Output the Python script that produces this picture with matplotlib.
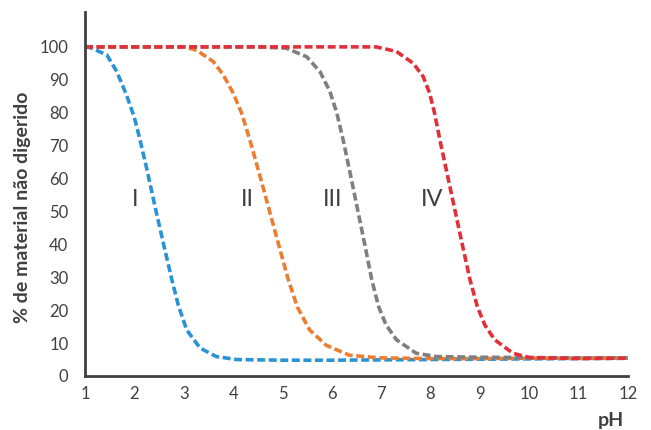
import numpy as np
import matplotlib
matplotlib.use('Agg')
import matplotlib.pyplot as plt

plt.rcParams['font.family'] = ['Lato', 'DejaVu Sans']

# curve I (blue)
ph_1 = [1.0, 1.1, 1.44, 1.64, 1.84, 2.0, 2.11, 2.25, 2.44, 2.6, 2.76, 2.89, 3.06, 3.33,
        3.66, 4.07, 5.0, 6.0, 7.0, 8.0, 9.0, 10.0, 11.0, 12.0]
val_1 = [100, 99.8, 97.6, 92.6, 85.4, 78.5, 72.0, 63.0, 50.0, 39.5, 29.2, 21.5, 14.0, 8.5,
         5.9, 5.0, 4.8, 4.8, 4.9, 5.0, 5.1, 5.2, 5.3, 5.4]

# curve II (orange)
ph_2 = [1.0, 2.0, 3.0, 3.26, 3.6, 3.8, 4.0, 4.17, 4.34, 4.54, 4.74, 4.93, 5.12, 5.3,
        5.55, 5.89, 6.36, 6.97, 8.0, 9.0, 10.0, 11.0, 12.0]
val_2 = [100, 100, 100, 99.0, 95.5, 91.5, 86.0, 80.0, 71.7, 61.0, 50.0, 39.5, 29.2, 21.0,
         14.0, 9.3, 6.3, 5.5, 5.3, 5.3, 5.4, 5.4, 5.5]

# curve III (gray)
ph_3 = [1.0, 3.0, 4.5, 5.08, 5.49, 5.76, 5.96, 6.1, 6.23, 6.38, 6.53, 6.67, 6.81, 6.95,
        7.1, 7.31, 7.71, 8.12, 9.0, 10.0, 11.0, 12.0]
val_3 = [100, 100, 100, 99.6, 97.0, 92.5, 86.5, 80.0, 71.7, 61.0, 50.0, 39.8, 29.2, 21.0,
         15.5, 11.0, 6.9, 5.9, 5.7, 5.6, 5.5, 5.5]

# curve IV (red)
ph_4 = [1.0, 3.0, 5.0, 6.9, 7.31, 7.65, 7.85, 7.98, 8.08, 8.19, 8.35, 8.5, 8.65, 8.8,
        8.95, 9.1, 9.3, 9.67, 10.0, 11.0, 12.0]
val_4 = [100, 100, 100, 100, 98.6, 95.0, 91.0, 86.0, 80.0, 71.7, 60.5, 50.0, 39.5, 29.2,
         21.0, 15.5, 11.0, 6.9, 5.6, 5.3, 5.4]

labels = ['I', 'II', 'III', 'IV']
label_x = [2.01, 4.29, 6.02, 8.04]
label_y = [53.7, 53.7, 53.7, 53.7]

x_ticks = list(range(1, 13))
y_ticks = list(range(0, 101, 10))

fig = plt.figure(figsize=(6.51, 4.30), dpi=100)
ax = fig.add_axes([0.1306, 0.1256, 0.834, 0.8465])

dash = (2.2, 1.0)
ax.plot(ph_1, val_1, color='#2a93d5', lw=2.6, dashes=dash)
ax.plot(ph_2, val_2, color='#ed7d31', lw=2.6, dashes=dash)
ax.plot(ph_3, val_3, color='#7f7f7f', lw=2.6, dashes=dash)
ax.plot(ph_4, val_4, color='#e1303a', lw=2.6, dashes=dash)

for i in range(len(labels)):
    ax.text(label_x[i], label_y[i], labels[i], fontsize=17, color='#404040',
            ha='center', va='center')

ax.set_xlim(1, 12)
ax.set_ylim(0, 110.6)
ax.set_xticks(x_ticks)
ax.set_yticks(y_ticks)
ax.tick_params(length=0, labelsize=12, labelcolor='#404040')
ax.tick_params(axis='x', pad=7)
ax.tick_params(axis='y', pad=12)

for s in ['top', 'right']:
    ax.spines[s].set_visible(False)
for s in ['left', 'bottom']:
    ax.spines[s].set_color('#404040')
    ax.spines[s].set_linewidth(2)

ax.set_ylabel('% de material não digerido', fontsize=14, fontweight='bold', color='#404040')
ax.yaxis.set_label_coords(-0.1, 0.463)
ax.text(0.969, -0.121, 'pH', transform=ax.transAxes, fontsize=14, fontweight='bold',
        color='#404040', ha='center', va='center')

plt.savefig('out.png', dpi=100)
